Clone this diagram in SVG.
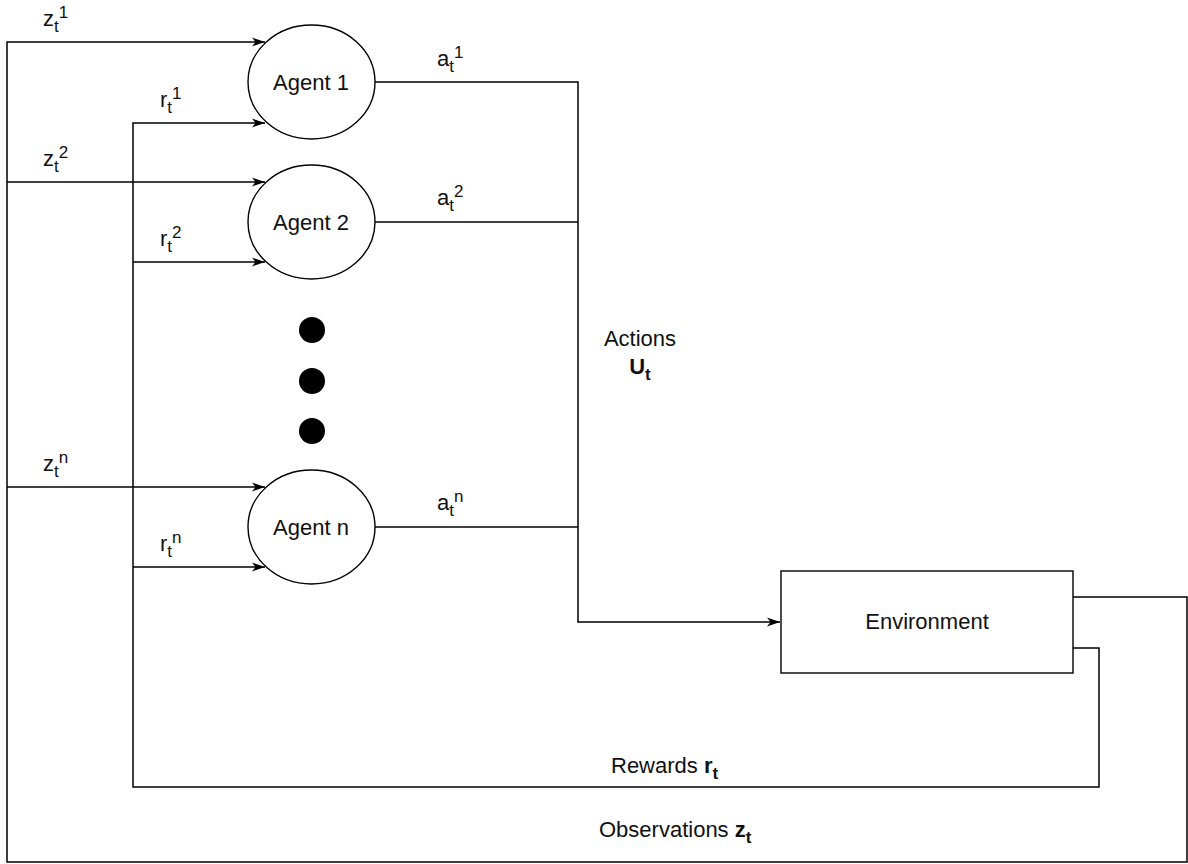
<svg xmlns="http://www.w3.org/2000/svg" width="1188" height="864" viewBox="0 0 1188 864">
  <style>
    .bg { fill: #ffffff; }
    .node { fill: #ffffff; stroke: #000000; stroke-width: 1.4; }
    .wire { fill: none; stroke: #000000; stroke-width: 1.5; }
    .dot { fill: #000000; }
    text { font-family: "Liberation Sans", Arial, sans-serif; font-size: 22px; fill: #111111; }
    .mid { text-anchor: middle; }
    .small { font-size: 17px; }
    .b { font-weight: bold; }
  </style>
  <defs>
    <marker id="arrow" markerUnits="userSpaceOnUse" markerWidth="14" markerHeight="11" refX="13" refY="5.5" orient="auto">
      <path d="M0,1 L13,5.5 L0,10 L3.5,5.5 z" fill="#000000"/>
    </marker>
  </defs>

  <rect class="bg" x="0" y="0" width="1188" height="864"/>

  <!-- connectors -->
  <g id="connectors">
    <!-- observations loop -->
    <path class="wire" d="M1073,597 H1187 V862 H7 V42 H265" marker-end="url(#arrow)"/>
    <path class="wire" d="M7,182 H265" marker-end="url(#arrow)"/>
    <path class="wire" d="M7,487 H265" marker-end="url(#arrow)"/>
    <!-- rewards loop -->
    <path class="wire" d="M1073,648 H1099 V787 H133 V123 H265" marker-end="url(#arrow)"/>
    <path class="wire" d="M133,262 H265" marker-end="url(#arrow)"/>
    <path class="wire" d="M133,567 H265" marker-end="url(#arrow)"/>
    <!-- actions bus -->
    <path class="wire" d="M375,82 H578 V622 H780" marker-end="url(#arrow)"/>
    <path class="wire" d="M375,222 H578"/>
    <path class="wire" d="M375,527 H578"/>
  </g>

  <!-- edge labels -->
  <g id="labels">
    <text x="43" y="26">z<tspan class="small" dy="6">t</tspan><tspan class="small" dy="-14">1</tspan></text>
    <text x="43" y="166">z<tspan class="small" dy="6">t</tspan><tspan class="small" dy="-14">2</tspan></text>
    <text x="43" y="471">z<tspan class="small" dy="6">t</tspan><tspan class="small" dy="-14">n</tspan></text>

    <text x="160" y="107">r<tspan class="small" dy="6">t</tspan><tspan class="small" dy="-14">1</tspan></text>
    <text x="160" y="246">r<tspan class="small" dy="6">t</tspan><tspan class="small" dy="-14">2</tspan></text>
    <text x="160" y="551">r<tspan class="small" dy="6">t</tspan><tspan class="small" dy="-14">n</tspan></text>

    <text x="437" y="66">a<tspan class="small" dy="6">t</tspan><tspan class="small" dy="-14">1</tspan></text>
    <text x="437" y="205">a<tspan class="small" dy="6">t</tspan><tspan class="small" dy="-14">2</tspan></text>
    <text x="437" y="510">a<tspan class="small" dy="6">t</tspan><tspan class="small" dy="-14">n</tspan></text>

    <text class="mid" x="640" y="346">Actions</text>
    <text class="mid b" x="640" y="374">U<tspan class="small" dy="6">t</tspan></text>

    <text x="611" y="773">Rewards <tspan class="b">r</tspan><tspan class="small b" dy="6">t</tspan></text>
    <text x="599" y="837">Observations <tspan class="b">z</tspan><tspan class="small b" dy="6">t</tspan></text>
  </g>

  <!-- agents -->
  <g id="agent-1">
    <ellipse class="node" cx="311.5" cy="82" rx="63.5" ry="57"/>
    <text class="mid" x="311" y="90">Agent 1</text>
  </g>
  <g id="agent-2">
    <ellipse class="node" cx="311.5" cy="222" rx="63.5" ry="57"/>
    <text class="mid" x="311" y="230">Agent 2</text>
  </g>
  <g id="ellipsis">
    <circle class="dot" cx="312" cy="330" r="13"/>
    <circle class="dot" cx="312" cy="381" r="13"/>
    <circle class="dot" cx="312" cy="431" r="13"/>
  </g>
  <g id="agent-n">
    <ellipse class="node" cx="311.5" cy="527" rx="63.5" ry="57"/>
    <text class="mid" x="311" y="535">Agent n</text>
  </g>

  <!-- environment -->
  <g id="environment">
    <rect class="node" x="781" y="571" width="292" height="102"/>
    <text class="mid" x="927" y="629">Environment</text>
  </g>
</svg>
